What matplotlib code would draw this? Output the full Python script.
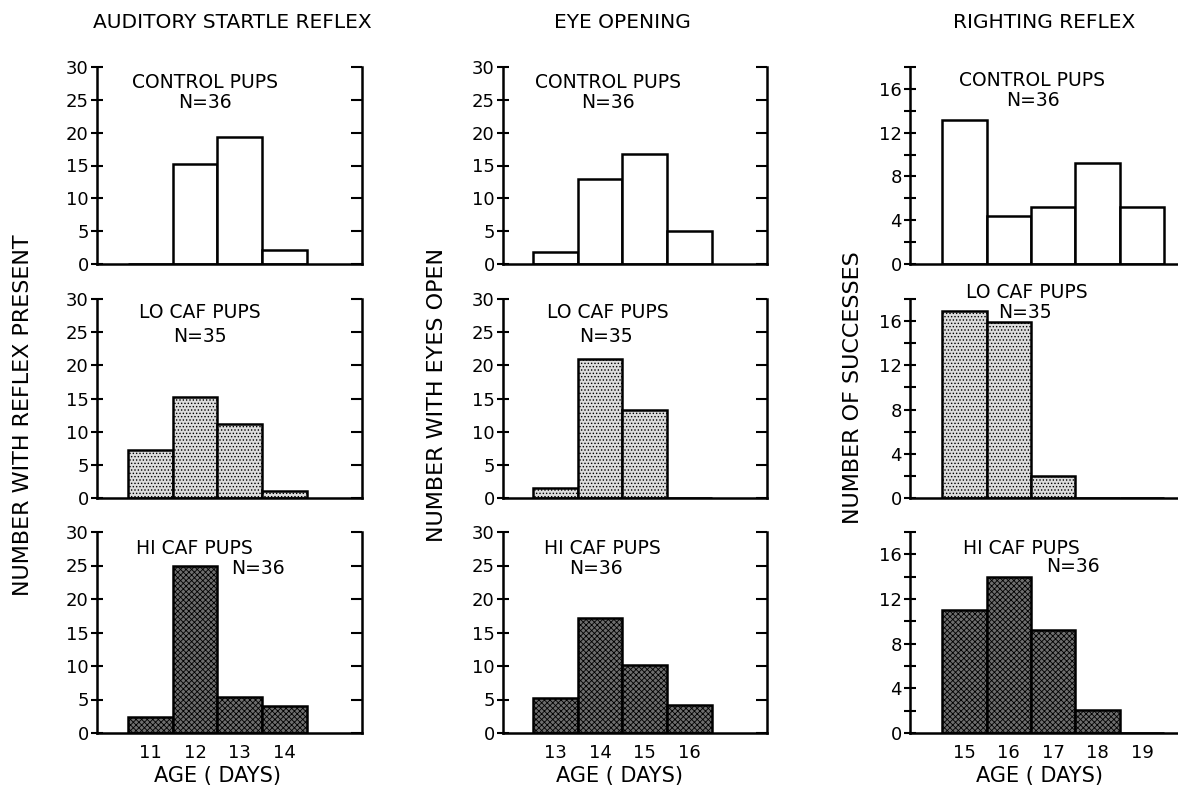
"""
Developmental milestones in pups by caffeine group — 3x3 histogram grid.
"""

import matplotlib
matplotlib.use("Agg")
import matplotlib.pyplot as plt
import matplotlib.ticker as ticker

# ── Data ──────────────────────────────────────────────────────────────────────
STARTLE_DAYS = [11, 12, 13, 14]
STARTLE_CONTROL = [0, 15.3, 19.4, 2.1]
STARTLE_LO = [7.2, 15.2, 11.2, 1.1]
STARTLE_HI = [2.4, 25.0, 5.4, 4.1]

EYE_DAYS = [13, 14, 15, 16]
EYE_CONTROL = [1.9, 13.0, 16.7, 5.1]
EYE_LO = [1.5, 20.9, 13.3, 0]
EYE_HI = [5.2, 17.2, 10.2, 4.2]

RIGHT_DAYS = [15, 16, 17, 18, 19]
RIGHT_CONTROL = [13.2, 4.4, 5.2, 9.2, 5.2]
RIGHT_LO = [16.9, 15.9, 2.0, 0, 0]
RIGHT_HI = [11.0, 14.0, 9.2, 2.1, 0]

COLUMN_TITLES = ["AUDITORY STARTLE REFLEX", "EYE OPENING", "RIGHTING REFLEX"]
Y_LABELS = ["NUMBER WITH REFLEX PRESENT", "NUMBER WITH EYES OPEN", "NUMBER OF SUCCESSES"]
GROUP_NAMES = ["CONTROL PUPS", "LO CAF PUPS", "HI CAF PUPS"]
GROUP_N = ["N=36", "N=35", "N=36"]

# ── Style ─────────────────────────────────────────────────────────────────────
W, H = 1178, 786
plt.rcParams.update({
    "font.family": "DejaVu Sans",
    "font.size": 12,
    "hatch.linewidth": 0.6,
    "axes.linewidth": 1.8,
})

FILLS = [
    {"facecolor": "white", "hatch": None},
    {"facecolor": "#dcdcdc", "hatch": "....."},
    {"facecolor": "#6e6e6e", "hatch": "xxxxxx"},
]

# pixel boxes (left, right) for columns and (top, bottom) for rows
COLS = [(97, 362), (503, 767), (910, 1180)]
ROWS = [(67, 264), (299, 498), (532, 733)]
XLIMS = [(9.81, 15.73), (11.83, 17.73), (13.78, 19.85)]


def px_text(fig, x, y, s, **kw):
    fig.text(x / W, 1 - y / H, s, **kw)


def make_axes(fig, col, row):
    (x0, x1), (y0, y1) = COLS[col], ROWS[row]
    return fig.add_axes([x0 / W, 1 - y1 / H, (x1 - x0) / W, (y1 - y0) / H])


fig = plt.figure(figsize=(W / 100, H / 100), dpi=100)

columns = [
    (STARTLE_DAYS, [STARTLE_CONTROL, STARTLE_LO, STARTLE_HI]),
    (EYE_DAYS, [EYE_CONTROL, EYE_LO, EYE_HI]),
    (RIGHT_DAYS, [RIGHT_CONTROL, RIGHT_LO, RIGHT_HI]),
]

for c, (days, groups) in enumerate(columns):
    for r, vals in enumerate(groups):
        ax = make_axes(fig, c, r)
        fill = FILLS[r]
        ax.bar(days, vals, width=1.0, align="center", edgecolor="black",
               linewidth=1.8, facecolor=fill["facecolor"], hatch=fill["hatch"])
        ax.set_xlim(*XLIMS[c])
        ax.spines["top"].set_visible(False)

        if c < 2:
            ax.set_ylim(0, 30)
            ax.yaxis.set_major_locator(ticker.MultipleLocator(5))
            ax.tick_params(axis="y", which="both", direction="inout", length=8,
                           width=1.5, pad=2, labelsize=13)
            # right spine ticks point inward
            ax.tick_params(axis="y", right=True)
            for t in ax.yaxis.get_major_ticks():
                t.tick2line.set_marker(0)
        else:
            ax.set_ylim(0, 18)
            ax.spines["right"].set_visible(False)
            ax.yaxis.set_major_locator(ticker.MultipleLocator(4))
            ax.yaxis.set_minor_locator(ticker.MultipleLocator(2))
            ax.tick_params(axis="y", which="both", direction="inout", length=8,
                           width=1.5, pad=2, labelsize=13)

        ax.set_xticks(days)
        ax.tick_params(axis="x", length=0, pad=8, labelsize=13)
        if r < 2:
            ax.set_xticklabels([])

# ── Text ──────────────────────────────────────────────────────────────────────
for x, title in zip([232, 622, 1044], COLUMN_TITLES):
    px_text(fig, x, 22, title, ha="center", va="center", fontsize=14.5)

for x, y, lab in zip([23, 437, 853], [415, 395, 388], Y_LABELS):
    px_text(fig, x, y, lab, ha="center", va="center", rotation=90, fontsize=16)

for x in [217, 620, 1039]:
    px_text(fig, x, 776, "AGE ( DAYS)", ha="center", va="center", fontsize=15)

# group labels (name position, N position) per column and row
NAME_POS = [
    [(205, 83), (200, 313), (194, 548)],
    [(608, 83), (608, 313), (602, 548)],
    [(1032, 80), (1027, 292), (1021, 548)],
]
N_POS = [
    [(205, 103), (200, 336), (258, 568)],
    [(608, 103), (606, 337), (596, 568)],
    [(1033, 100), (1025, 312), (1073, 567)],
]
for c in range(3):
    for r in range(3):
        nx, ny = NAME_POS[c][r]
        px_text(fig, nx, ny, GROUP_NAMES[r], ha="center", va="center", fontsize=13.5)
        mx, my = N_POS[c][r]
        px_text(fig, mx, my, GROUP_N[r], ha="center", va="center", fontsize=13.5)

fig.savefig("out.png", dpi=100, facecolor="white")
